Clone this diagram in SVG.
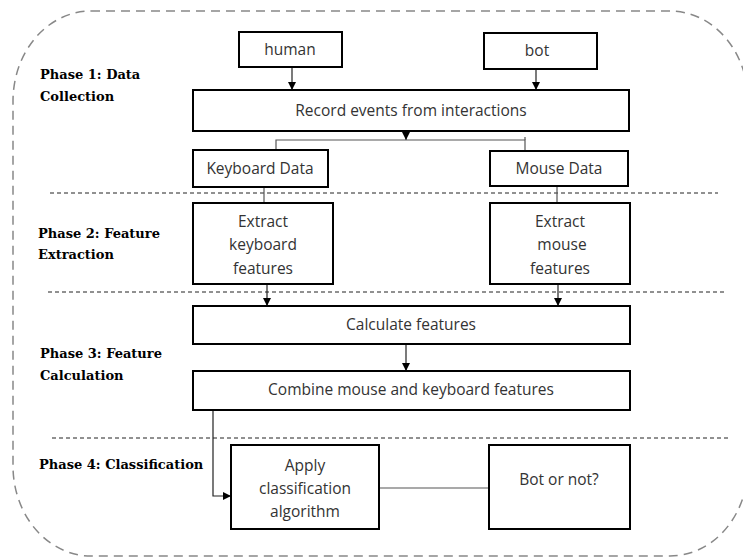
<svg xmlns="http://www.w3.org/2000/svg" width="743" height="558" viewBox="0 0 743 558">
<style>
.box{fill:#fff;stroke:#000;stroke-width:2}
.t{font-family:"Open Sans","Noto Sans",sans-serif;font-size:15.5px;fill:#333;text-anchor:middle}
.ph{font-family:"DejaVu Serif",serif;font-weight:bold;font-size:13px;fill:#000}
.div{stroke:#222;stroke-width:1;stroke-dasharray:4 3;fill:none}
.ln{stroke:#555;stroke-width:1.2;fill:none}
.ar{stroke:#222;stroke-width:1.2;fill:none;marker-end:url(#ah)}
</style>
<defs>
<marker id="ah" markerWidth="8" markerHeight="8" viewBox="0 0 8 8" refX="8" refY="4" orient="auto" markerUnits="userSpaceOnUse">
<path d="M0,0 L8,4 L0,8 Z" fill="#000"/>
</marker>
</defs>
<rect x="13" y="11" width="735" height="545" rx="78" ry="90" fill="none" stroke="#888" stroke-width="1.5" stroke-dasharray="9 6"/>
<g id="dividers">
<line class="div" x1="50" y1="193" x2="718" y2="193"/>
<line class="div" x1="48" y1="292" x2="724" y2="292" stroke="#666"/>
<line class="div" x1="52" y1="438" x2="729" y2="438" stroke="#444"/>
</g>
<g id="labels">
<text class="ph" x="40" y="79">Phase 1: Data</text>
<text class="ph" x="40" y="101">Collection</text>
<text class="ph" x="38" y="238">Phase 2: Feature</text>
<text class="ph" x="38" y="259">Extraction</text>
<text class="ph" x="40" y="358">Phase 3: Feature</text>
<text class="ph" x="40" y="380">Calculation</text>
<text class="ph" x="39" y="469">Phase 4: Classification</text>
</g>
<g id="connectors">
<line class="ar" x1="292" y1="67" x2="292" y2="90"/>
<line class="ar" x1="536" y1="69" x2="536" y2="90"/>
<line class="ar" x1="406" y1="131" x2="406" y2="140"/>
<polyline class="ln" points="276,150 276,140 525,140 525,151"/>
<line class="ln" x1="525" y1="137" x2="525" y2="140"/>
<line class="ln" x1="264" y1="187" x2="264" y2="203"/>
<line class="ln" x1="557" y1="186" x2="557" y2="203"/>
<line class="ar" x1="267" y1="284" x2="267" y2="306"/>
<line class="ar" x1="558" y1="284" x2="558" y2="306"/>
<line class="ar" x1="406" y1="344" x2="406" y2="371"/>
<polyline class="ar" points="213,410 213,496 231,496"/>
<line class="ln" x1="379" y1="488" x2="489" y2="488" stroke-width="1.5" stroke="#666"/>
</g>
<g id="human"><rect class="box" x="239" y="32" width="103" height="35"/><text class="t" x="290" y="55">human</text></g>
<g id="bot"><rect class="box" x="484" y="33" width="113" height="36"/><text class="t" x="537" y="56">bot</text></g>
<g id="record"><rect class="box" x="193" y="90" width="436" height="41"/><text class="t" x="411" y="116">Record events from interactions</text></g>
<g id="keyboard-data"><rect class="box" x="193" y="150" width="135" height="37"/><text class="t" x="260" y="174">Keyboard Data</text></g>
<g id="mouse-data"><rect class="box" x="490" y="151" width="138" height="35"/><text class="t" x="559" y="174">Mouse Data</text></g>
<g id="extract-keyboard"><rect class="box" x="193" y="203" width="140" height="81"/>
<text class="t" x="263" y="227">Extract</text><text class="t" x="263" y="250">keyboard</text><text class="t" x="263" y="274">features</text></g>
<g id="extract-mouse"><rect class="box" x="490" y="203" width="140" height="81"/>
<text class="t" x="560" y="227">Extract</text><text class="t" x="562" y="250">mouse</text><text class="t" x="560" y="274">features</text></g>
<g id="calculate"><rect class="box" x="193" y="306" width="437" height="38"/><text class="t" x="411" y="330">Calculate features</text></g>
<g id="combine"><rect class="box" x="193" y="371" width="437" height="39"/><text class="t" x="411" y="395">Combine mouse and keyboard features</text></g>
<g id="apply"><rect class="box" x="231" y="445" width="148" height="84"/>
<text class="t" x="305" y="471">Apply</text><text class="t" x="305" y="494">classification</text><text class="t" x="305" y="517">algorithm</text></g>
<g id="bot-or-not"><rect class="box" x="489" y="445" width="141" height="84"/><text class="t" x="559" y="485">Bot or not?</text></g>
</svg>
